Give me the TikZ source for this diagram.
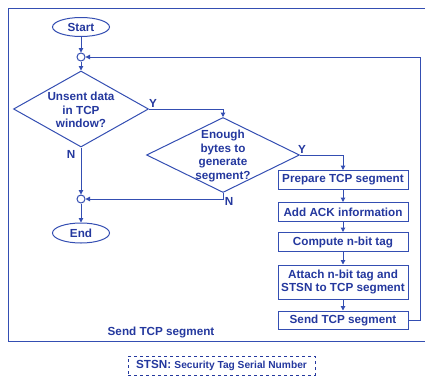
\documentclass[tikz,border=0pt]{standalone}
\usepackage{fontspec}
\setmainfont{Liberation Sans}
\usetikzlibrary{shapes.geometric,arrows.meta}
\definecolor{fc}{RGB}{36,56,158}
\definecolor{lc}{RGB}{52,78,178}
\tikzset{
  every node/.style={text=fc,font=\bfseries\fontsize{11.7}{13.7}\selectfont},
  lin/.style={draw=lc,line width=1pt},
  arr/.style={lin,-{Triangle[length=4.5pt,width=4.5pt]}},
  term/.style={ellipse,draw=lc,line width=1pt,minimum width=57pt,minimum height=19pt,inner sep=0pt},
  junc/.style={circle,draw=lc,line width=1pt,minimum size=8pt,inner sep=0pt},
  dec/.style={diamond,draw=lc,line width=1pt,inner sep=0pt},
  proc/.style={rectangle,draw=lc,line width=1pt,minimum width=130pt,inner sep=0pt,align=center},
  yn/.style={inner sep=0pt}
}
\begin{document}
\begin{tikzpicture}[x=1pt,y=-1pt]
\useasboundingbox (0,0) rectangle (425,380);
% frame
\draw[lin] (430,8) -- (8,8) -- (8,341) -- (430,341);
% terminals and junctions
\node[term] (start) at (81,27) {Start};
\node[junc] (c1) at (81,57) {};
\node[dec,minimum width=135pt,minimum height=76pt] (d1) at (81,109) {};
\node[align=center,inner sep=0pt] (d1t) at (81,110) {Unsent data\\in TCP\\window?};
\node[dec,minimum width=153pt,minimum height=75pt] (d2) at (223,155) {};
\node[align=center,inner sep=0pt] (d2t) at (223,156) {Enough\\bytes to\\generate\\segment?};
\node[junc] (c2) at (81,199) {};
\node[term,minimum height=20pt] (end) at (81,233) {End};
% process boxes
\node[proc,minimum height=19pt] (prep) at (343,180) {Prepare TCP segment};
\node[proc,minimum height=19pt] (ack) at (343,212) {Add ACK information};
\node[proc,minimum height=19pt] (comp) at (343,242) {Compute n-bit tag};
\node[proc,minimum height=34pt] (att) at (343,282) {Attach n-bit tag and\\STSN to TCP segment};
\node[proc,minimum height=18pt] (send) at (343,320) {Send TCP segment};
% connectors
\draw[arr] (start) -- (c1);
\draw[arr] (c1) -- (d1.north);
\draw[arr] (d1.east) -| (d2.north);
\draw[arr] (d2.east) -| (prep.north);
\draw[arr] (d2.south) |- (c2);
\draw[arr] (d1.south) -- (c2);
\draw[arr] (c2) -- (end);
\draw[arr] (prep) -- (ack);
\draw[arr] (ack) -- (comp);
\draw[arr] (comp) -- (att);
\draw[arr] (att) -- (send);
\coordinate (rt) at (420,320);
\draw[arr] (send.east) -- (rt) |- (c1);
% labels
\node[yn] (y1) at (153,103) {Y};
\node[yn] (n1) at (71,154) {N};
\node[yn] (y2) at (302,149) {Y};
\node[yn] (n2) at (229,201) {N};
\node[inner sep=0pt] (title) at (161,332) {Send TCP segment};
\node[draw=fc,dashed,line width=0.9pt,minimum width=187pt,minimum height=19pt,inner sep=0pt] (note) at (221.5,365.5) {STSN: {\fontsize{10.2}{12}\selectfont Security Tag Serial Number}};
\end{tikzpicture}
\end{document}
